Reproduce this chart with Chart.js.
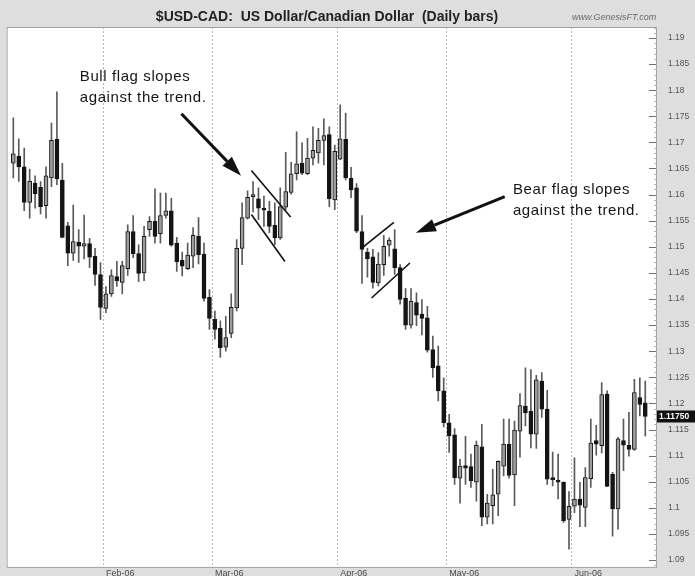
<!DOCTYPE html>
<html>
<head>
<meta charset="utf-8">
<title>USD-CAD daily bars</title>
<script src="https://cdn.jsdelivr.net/npm/chart.js@4.4.1/dist/chart.umd.min.js"></script>
<style>
  html, body { margin: 0; padding: 0; background: #dedede; }
  canvas { display: block; }
</style>
</head>
<body>
<canvas id="fxChart" width="695" height="576"></canvas>
<script>
// daily USD/CAD bars, 9 Jan 2006 - 20 Jun 2006
const firstDay = '2006-01-09';
const lastDay = '2006-06-20';

const opens = [
  1.1660, 1.1674, 1.1653, 1.1585, 1.1622, 1.1614, 1.1579, 1.1632, 1.1706, 1.1628,
  1.1540, 1.1488, 1.1509, 1.1501, 1.1506, 1.1482, 1.1447, 1.1382, 1.1410, 1.1443,
  1.1432, 1.1458, 1.1529, 1.1487, 1.1450, 1.1533, 1.1549, 1.1525, 1.1560, 1.1569,
  1.1507, 1.1474, 1.1458, 1.1482, 1.1520, 1.1486, 1.1403, 1.1361, 1.1344, 1.1308,
  1.1334, 1.1383, 1.1497, 1.1555, 1.1596, 1.1592, 1.1574, 1.1568, 1.1541, 1.1517,
  1.1576, 1.1604, 1.1640, 1.1660, 1.1640, 1.1670, 1.1680, 1.1704, 1.1715, 1.1590,
  1.1668, 1.1706, 1.1631, 1.1613, 1.1529, 1.1490, 1.1481, 1.1431, 1.1466, 1.1503,
  1.1496, 1.1460, 1.1402, 1.1350, 1.1393, 1.1371, 1.1364, 1.1303, 1.1272, 1.1224,
  1.1163, 1.1140, 1.1057, 1.1081, 1.1079, 1.1049, 1.1117, 1.0982, 1.1004, 1.1026,
  1.1080, 1.1122, 1.1063, 1.1147, 1.1195, 1.1185, 1.1141, 1.1243, 1.1189, 1.1057,
  1.1053, 1.1049, 1.0978, 1.1003, 1.1017, 1.1001, 1.1056, 1.1129, 1.1119, 1.1218,
  1.1064, 1.0998, 1.1129, 1.1120, 1.1112, 1.1211, 1.1201
];
const highs = [
  1.1747, 1.1707, 1.1689, 1.1649, 1.1636, 1.1625, 1.1653, 1.1737, 1.1797, 1.1660,
  1.1547, 1.1580, 1.1533, 1.1561, 1.1516, 1.1497, 1.1470, 1.1424, 1.1456, 1.1472,
  1.1472, 1.1542, 1.1560, 1.1504, 1.1539, 1.1558, 1.1611, 1.1603, 1.1603, 1.1593,
  1.1518, 1.1490, 1.1507, 1.1537, 1.1556, 1.1507, 1.1418, 1.1377, 1.1358, 1.1367,
  1.1410, 1.1514, 1.1584, 1.1607, 1.1625, 1.1613, 1.1597, 1.1587, 1.1584, 1.1613,
  1.1681, 1.1662, 1.1720, 1.1699, 1.1708, 1.1730, 1.1727, 1.1745, 1.1730, 1.1695,
  1.1772, 1.1756, 1.1652, 1.1621, 1.1560, 1.1497, 1.1495, 1.1489, 1.1522, 1.1517,
  1.1533, 1.1466, 1.1420, 1.1420, 1.1412, 1.1399, 1.1386, 1.1329, 1.1310, 1.1249,
  1.1179, 1.1152, 1.1093, 1.1137, 1.1103, 1.1128, 1.1160, 1.1026, 1.1074, 1.1090,
  1.1170, 1.1170, 1.1166, 1.1219, 1.1268, 1.1265, 1.1254, 1.1259, 1.1225, 1.1107,
  1.1103, 1.1050, 1.1031, 1.1096, 1.1049, 1.1077, 1.1170, 1.1158, 1.1240, 1.1224,
  1.1068, 1.1135, 1.1170, 1.1183, 1.1246, 1.1249, 1.1243
];
const lows = [
  1.1632, 1.1625, 1.1569, 1.1555, 1.1574, 1.1563, 1.1555, 1.1615, 1.1619, 1.1517,
  1.1464, 1.1474, 1.1470, 1.1477, 1.1460, 1.1426, 1.1361, 1.1374, 1.1405, 1.1424,
  1.1410, 1.1445, 1.1479, 1.1433, 1.1435, 1.1520, 1.1507, 1.1507, 1.1555, 1.1501,
  1.1453, 1.1444, 1.1456, 1.1460, 1.1467, 1.1396, 1.1342, 1.1323, 1.1288, 1.1300,
  1.1326, 1.1377, 1.1466, 1.1553, 1.1567, 1.1552, 1.1539, 1.1527, 1.1504, 1.1514,
  1.1571, 1.1601, 1.1628, 1.1638, 1.1638, 1.1657, 1.1660, 1.1657, 1.1577, 1.1571,
  1.1667, 1.1628, 1.1594, 1.1527, 1.1430, 1.1442, 1.1421, 1.1425, 1.1445, 1.1482,
  1.1447, 1.1390, 1.1342, 1.1344, 1.1349, 1.1331, 1.1298, 1.1250, 1.1205, 1.1155,
  1.1106, 1.1045, 1.1009, 1.1045, 1.1039, 1.1013, 1.0966, 1.0969, 1.0969, 1.0985,
  1.1061, 1.1057, 1.1004, 1.1097, 1.1157, 1.1115, 1.1114, 1.1173, 1.1045, 1.1042,
  1.1017, 1.0972, 1.0921, 1.0991, 1.0964, 1.0964, 1.1039, 1.1101, 1.1105, 1.1041,
  1.0946, 1.0959, 1.1071, 1.1099, 1.1110, 1.1176, 1.1138
];
const closes = [
  1.1678, 1.1653, 1.1585, 1.1626, 1.1602, 1.1577, 1.1636, 1.1704, 1.1630, 1.1518,
  1.1488, 1.1510, 1.1501, 1.1506, 1.1480, 1.1447, 1.1384, 1.1410, 1.1445, 1.1435,
  1.1464, 1.1529, 1.1487, 1.1449, 1.1520, 1.1549, 1.1520, 1.1560, 1.1569, 1.1503,
  1.1471, 1.1463, 1.1484, 1.1522, 1.1485, 1.1401, 1.1363, 1.1342, 1.1307, 1.1326,
  1.1384, 1.1497, 1.1556, 1.1595, 1.1600, 1.1574, 1.1570, 1.1539, 1.1517, 1.1577,
  1.1606, 1.1640, 1.1659, 1.1641, 1.1670, 1.1685, 1.1704, 1.1713, 1.1592, 1.1683,
  1.1707, 1.1632, 1.1609, 1.1530, 1.1495, 1.1477, 1.1432, 1.1467, 1.1501, 1.1513,
  1.1460, 1.1399, 1.1350, 1.1396, 1.1369, 1.1363, 1.1302, 1.1268, 1.1224, 1.1163,
  1.1138, 1.1058, 1.1080, 1.1076, 1.1052, 1.1120, 1.0982, 1.1009, 1.1025, 1.1089,
  1.1122, 1.1062, 1.1149, 1.1196, 1.1182, 1.1141, 1.1245, 1.1189, 1.1055, 1.1054,
  1.1049, 1.0975, 1.1003, 1.1017, 1.1005, 1.1058, 1.1124, 1.1122, 1.1217, 1.1041,
  1.0998, 1.1132, 1.1120, 1.1112, 1.1221, 1.1198, 1.1175
];

// price axis
const priceMin = 1.0885;
const priceMax = 1.1921;
const priceStep = 0.005;

// flag channels and arrows, in [bar index, price] pairs
const flagLines = [
  [43.7, 1.1646, 50.9, 1.1557],
  [43.7, 1.1562, 49.85, 1.1472],
  [63.9, 1.1497, 69.85, 1.1547],
  [65.75, 1.1402, 72.8, 1.1469]
];
const arrows = [
  [30.85, 1.1755, 41.8, 1.1636],
  [90.2, 1.1596, 73.9, 1.1527]
];
const notes = [
  { at: [12.2, 1.1825], lines: ['Bull flag slopes', 'against the trend.'] },
  { at: [91.7, 1.1609], lines: ['Bear flag slopes', 'against the trend.'] }
];

const titleText = '$USD-CAD:  US Dollar/Canadian Dollar  (Daily bars)';
const siteText = 'www.GenesisFT.com';

const monthNames = ['Jan', 'Feb', 'Mar', 'Apr', 'May', 'Jun', 'Jul', 'Aug', 'Sep', 'Oct', 'Nov', 'Dec'];
const family = "'Liberation Sans', Arial, sans-serif";

// trading days (weekdays) between the first and last bar
var days = [];
for (var d = new Date(firstDay + 'T00:00:00Z'); d <= new Date(lastDay + 'T00:00:00Z'); d.setUTCDate(d.getUTCDate() + 1)) {
  if (d.getUTCDay() !== 0 && d.getUTCDay() !== 6) {
    days.push(new Date(d));
  }
}
var labels = days.map(day => day.toISOString().slice(0, 10));

// a bar opens a new month when its month differs from the previous bar
function monthLabel(i) {
  if (typeof i !== 'number' || i <= 0 || i >= days.length) return '';
  if (days[i].getUTCMonth() === days[i - 1].getUTCMonth()) return '';
  return monthNames[days[i].getUTCMonth()] + '-' + String(days[i].getUTCFullYear()).slice(2);
}

var bodyColors = opens.map((o, i) => closes[i] >= o ? '#9c9c9c' : '#141414');

function drawArrow(ctx, x1, y1, x2, y2) {
  var ang = Math.atan2(y2 - y1, x2 - x1);
  var head = 20, half = 6.5;
  var bx = x2 - head * Math.cos(ang), by = y2 - head * Math.sin(ang);
  ctx.lineWidth = 3;
  ctx.beginPath();
  ctx.moveTo(x1, y1);
  ctx.lineTo(bx, by);
  ctx.stroke();
  ctx.beginPath();
  ctx.moveTo(x2, y2);
  ctx.lineTo(bx + half * Math.sin(ang), by - half * Math.cos(ang));
  ctx.lineTo(bx - half * Math.sin(ang), by + half * Math.cos(ang));
  ctx.closePath();
  ctx.fill();
}

const chartFrame = {
  id: 'chartFrame',
  beforeDraw(chart) {
    var ctx = chart.ctx, a = chart.chartArea;
    ctx.save();
    ctx.fillStyle = '#dedede';
    ctx.fillRect(0, 0, chart.width, chart.height);
    ctx.fillStyle = '#ffffff';
    ctx.fillRect(a.left - 4, a.top, a.right - a.left + 13, a.bottom - a.top);
    ctx.restore();
  },
  afterDraw(chart) {
    var ctx = chart.ctx, a = chart.chartArea;
    var xs = chart.scales.x, ys = chart.scales.y;
    var left = a.left - 4, right = a.right + 9;
    ctx.save();

    // plot border
    ctx.strokeStyle = '#a0a0a0';
    ctx.lineWidth = 1;
    ctx.strokeRect(left + 0.5, a.top + 0.5, right - left - 1, a.bottom - a.top - 1);

    // price ticks along the right edge
    ctx.strokeStyle = '#b4b4b4';
    for (var p = Math.ceil(priceMin * 1000); p <= priceMax * 1000; p++) {
      var py = Math.round(ys.getPixelForValue(p / 1000)) + 0.5;
      ctx.beginPath();
      ctx.moveTo(right - 3, py);
      ctx.lineTo(right, py);
      ctx.stroke();
    }
    ctx.strokeStyle = '#707070';
    ys.ticks.forEach(t => {
      var ty = Math.round(ys.getPixelForValue(t.value)) + 0.5;
      ctx.beginPath();
      ctx.moveTo(right - 8, ty);
      ctx.lineTo(right - 1, ty);
      ctx.stroke();
    });

    // title band
    ctx.fillStyle = '#222222';
    ctx.font = "bold 14px 'Liberation Sans Narrow', 'Liberation Sans', Arial, sans-serif";
    ctx.textAlign = 'center';
    ctx.textBaseline = 'middle';
    ctx.fillText(titleText, 327, 17);
    ctx.fillStyle = '#6a6a6a';
    ctx.font = 'italic 9px ' + family;
    ctx.textAlign = 'left';
    ctx.fillText(siteText, 572, 17);

    // last price marker
    var last = closes[closes.length - 1];
    var ly = ys.getPixelForValue(last);
    ctx.fillStyle = '#111111';
    ctx.fillRect(right, ly - 6, chart.width - right, 12);
    ctx.fillStyle = '#ffffff';
    ctx.font = 'bold 8.5px ' + family;
    ctx.fillText(last.toFixed(5), right + 2, ly + 0.5);

    // flag channels
    ctx.strokeStyle = '#111111';
    ctx.fillStyle = '#111111';
    ctx.lineWidth = 1.6;
    flagLines.forEach(l => {
      ctx.beginPath();
      ctx.moveTo(xs.getPixelForValue(l[0]), ys.getPixelForValue(l[1]));
      ctx.lineTo(xs.getPixelForValue(l[2]), ys.getPixelForValue(l[3]));
      ctx.stroke();
    });
    arrows.forEach(l => {
      drawArrow(ctx, xs.getPixelForValue(l[0]), ys.getPixelForValue(l[1]),
        xs.getPixelForValue(l[2]), ys.getPixelForValue(l[3]));
    });

    // notes
    ctx.font = '15px ' + family;
    ctx.letterSpacing = '0.6px';
    ctx.textAlign = 'left';
    ctx.textBaseline = 'middle';
    ctx.fillStyle = '#151515';
    notes.forEach(n => {
      var nx = xs.getPixelForValue(n.at[0]), ny = ys.getPixelForValue(n.at[1]);
      n.lines.forEach((line, k) => ctx.fillText(line, nx, ny + k * 21));
    });
    ctx.restore();
  }
};

new Chart(document.getElementById('fxChart').getContext('2d'), {
  type: 'bar',
  data: {
    labels: labels,
    datasets: [{
      label: 'High-Low',
      data: lows.map((l, i) => [l, highs[i]]),
      backgroundColor: '#5a5a5a',
      barThickness: 1,
      grouped: false,
      order: 2
    }, {
      label: 'Open-Close',
      data: opens.map((o, i) => [o, closes[i]]),
      backgroundColor: bodyColors,
      borderColor: '#161616',
      borderWidth: 1,
      borderSkipped: false,
      barThickness: 4,
      minBarLength: 2,
      grouped: false,
      order: 1
    }]
  },
  options: {
    responsive: false,
    devicePixelRatio: 1,
    animation: false,
    layout: { padding: { left: 10.6, top: 27, right: 0, bottom: 0 } },
    plugins: {
      legend: { display: false },
      tooltip: { enabled: false }
    },
    scales: {
      x: {
        grid: {
          offset: true,
          drawTicks: false,
          lineWidth: 1,
          color: ctx => monthLabel(ctx.index) ? '#b8b8b8' : 'rgba(0,0,0,0)'
        },
        border: { display: false, dash: [2, 2] },
        ticks: {
          autoSkip: false,
          maxRotation: 0,
          align: 'start',
          padding: 0,
          color: '#4a4a4a',
          font: { size: 9, family: family },
          callback: (v, i) => monthLabel(i)
        },
        afterFit(s) { s.height = 8; }
      },
      y: {
        position: 'right',
        min: priceMin,
        max: priceMax,
        grid: {
          drawOnChartArea: false,
          drawTicks: true,
          tickLength: 17,
          tickColor: 'rgba(0,0,0,0)'
        },
        border: { display: false },
        ticks: {
          stepSize: priceStep,
          includeBounds: false,
          padding: 3,
          color: '#555555',
          font: { size: 8.5, family: family },
          callback: v => String(+v.toFixed(3))
        },
        afterFit(s) { s.width = 47; }
      }
    }
  },
  plugins: [chartFrame]
});
</script>
</body>
</html>
